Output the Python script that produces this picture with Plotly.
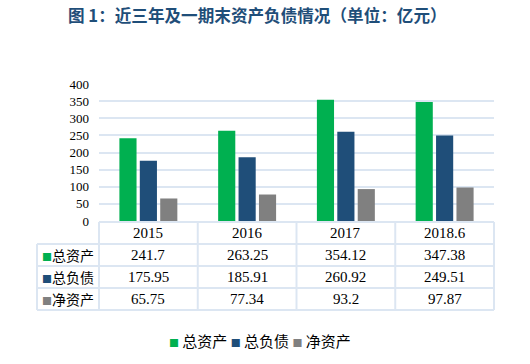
import plotly.graph_objects as go

# ---- data ----
categories = ["2015", "2016", "2017", "2018.6"]
series_names = ["总资产", "总负债", "净资产"]
total_assets = [241.7, 263.25, 354.12, 347.38]
total_liabilities = [175.95, 185.91, 260.92, 249.51]
net_assets = [65.75, 77.34, 93.2, 97.87]
value_labels = {
    "总资产": ["241.7", "263.25", "354.12", "347.38"],
    "总负债": ["175.95", "185.91", "260.92", "249.51"],
    "净资产": ["65.75", "77.34", "93.2", "97.87"],
}
y_ticks = [0, 50, 100, 150, 200, 250, 300, 350, 400]
title_text = "图 1：近三年及一期末资产负债情况（单位：亿元）"

# ---- style ----
colors = ["#00B050", "#1F4E79", "#808080"]
grid_color = "#DCE6F2"
W, H = 530, 364
L, R, T, B = 99, 36, 84, 143
plot_w = W - L - R
plot_h = H - T - B
CJK = "Noto Sans CJK SC"
NUM = "Liberation Serif"

series_values = [total_assets, total_liabilities, net_assets]

fig = go.Figure()
for name, vals, col in zip(series_names, series_values, colors):
    fig.add_trace(go.Bar(x=categories, y=vals, name=name, marker_color=col,
                         marker_line_width=0, showlegend=False, hoverinfo="x+y+name"))

def py(px):
    # pixel row (from top of figure) -> paper y
    return (H - B - px) / plot_h

def pxp(px):
    # pixel column -> paper x
    return (px - L) / plot_w

n = len(categories)
col_x = [(i + 0.5) / n for i in range(n)]
bounds = [i / n for i in range(n + 1)]
left_edge = pxp(37)
row_lines = [244, 266, 288, 310]
shapes = []
line = dict(color=grid_color, width=2)
for r in row_lines:
    shapes.append(dict(type="line", xref="paper", yref="paper", x0=left_edge, x1=1,
                       y0=py(r), y1=py(r), line=line, layer="below"))
shapes.append(dict(type="line", xref="paper", yref="paper", x0=0, x1=1,
                   y0=py(222), y1=py(222), line=line, layer="below"))
for b in bounds:
    shapes.append(dict(type="line", xref="paper", yref="paper", x0=b, x1=b,
                       y0=py(222), y1=py(310), line=line, layer="below"))
shapes.append(dict(type="line", xref="paper", yref="paper", x0=left_edge, x1=left_edge,
                   y0=py(244), y1=py(310), line=line, layer="below"))

annotations = []
for c, xc in zip(categories, col_x):
    annotations.append(dict(x=xc, xref="paper", y=py(233), yref="paper", text=c, showarrow=False,
                            font=dict(family=NUM, size=15, color="#000"),
                            xanchor="center", yanchor="middle"))
row_centers = [255, 277, 299]
for name, col, yc in zip(series_names, colors, row_centers):
    annotations.append(dict(x=left_edge, xref="paper", y=py(yc), yref="paper",
                            text=f"<span style='color:{col};font-size:10px'>■</span>{name}",
                            showarrow=False, xanchor="left", yanchor="middle", xshift=3,
                            font=dict(family=CJK, size=14, color="#000")))
    for xc, lab in zip(col_x, value_labels[name]):
        annotations.append(dict(x=xc, xref="paper", y=py(yc), yref="paper", text=lab,
                                showarrow=False, font=dict(family=NUM, size=15, color="#000"),
                                xanchor="center", yanchor="middle"))
leg = " ".join(f"<span style='color:{col};font-size:10px'>■</span> {name}"
               for name, col in zip(series_names, colors))
annotations.append(dict(x=pxp(260), xref="paper", y=py(340), yref="paper",
                        text=leg, showarrow=False, xanchor="center", yanchor="middle",
                        font=dict(family=CJK, size=15, color="#000")))
annotations.append(dict(x=pxp(257.5), xref="paper", y=py(15), yref="paper",
                        text=f"<b>{title_text}</b>", showarrow=False, xanchor="center",
                        yanchor="middle", font=dict(family=CJK, size=16.6, color="#1F4E79")))

fig.update_layout(
    width=W, height=H,
    margin=dict(l=L, r=R, t=T, b=B),
    paper_bgcolor="white", plot_bgcolor="white",
    barmode="group", bargap=0.38, bargroupgap=0.16,
    showlegend=False,
    xaxis=dict(type="category", range=[-0.5, n - 0.5], showticklabels=False,
               showgrid=False, zeroline=False, showline=False),
    yaxis=dict(range=[0, 400], tickvals=y_ticks, showgrid=True, gridcolor=grid_color,
               gridwidth=2, zeroline=False, showline=False, ticks="",
               ticklabelstandoff=9,
               tickfont=dict(family=NUM, size=13, color="#000")),
    shapes=shapes, annotations=annotations,
)

fig.write_html("out.html", config={"displayModeBar": False},
               post_script="document.body.style.margin='0';")
